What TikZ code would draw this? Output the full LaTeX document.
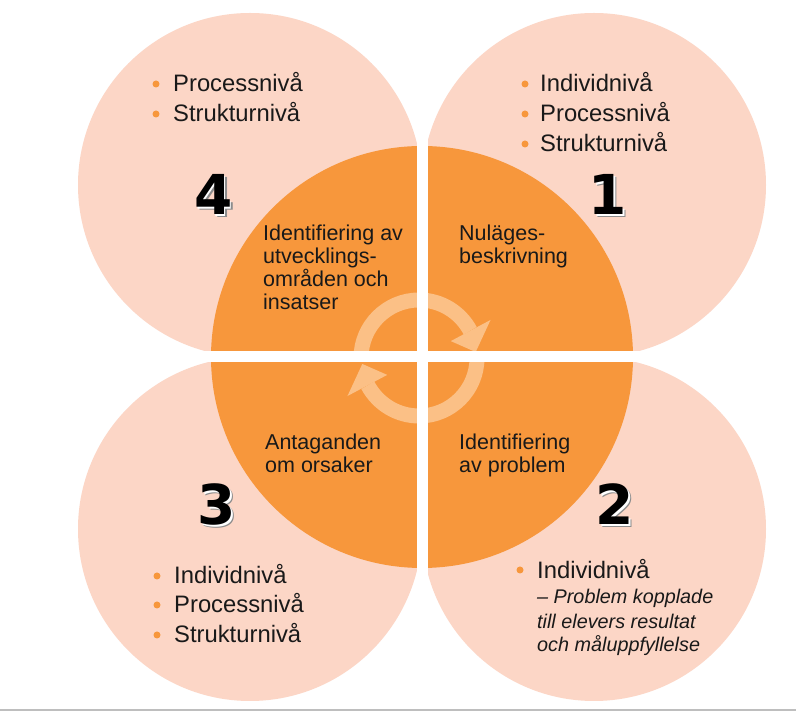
\documentclass[tikz,border=0pt]{standalone}
\usepackage{fontspec}
\setmainfont{Liberation Sans}
\newfontfamily\numfont{DejaVu Sans}
\usetikzlibrary{calc}
\definecolor{pale}{RGB}{252,214,198}
\definecolor{orng}{RGB}{247,151,60}
\definecolor{ringc}{RGB}{251,192,134}
\definecolor{txt}{RGB}{25,25,25}
\definecolor{shadowc}{RGB}{140,140,140}
\definecolor{lineg}{RGB}{190,190,190}
\newcommand{\shadownum}[1]{%
  \rlap{\hspace{3pt}\raisebox{-3pt}{\textcolor{shadowc}{#1}}}%
  \rlap{\hspace{1.5pt}\raisebox{-1.5pt}{\textcolor{white}{#1}}}%
  \textcolor{black}{#1}}
\begin{document}
\begin{tikzpicture}[x=1pt,y=1pt,
  bul/.style={anchor=base west, inner sep=0pt, font=\fontsize{23.8}{28}\selectfont, text=txt},
  ctr/.style={anchor=base west, inner sep=0pt, font=\fontsize{21.5}{23}\selectfont, text=txt},
  ital/.style={anchor=base west, inner sep=0pt, font=\fontsize{19.8}{24}\selectfont\itshape, text=txt},
  num/.style={anchor=base, inner sep=0pt, font=\numfont\bfseries\fontsize{55}{55}\selectfont},
  dot/.style={circle, fill=orng, inner sep=0pt, minimum size=7pt},
]
\useasboundingbox (0,0) rectangle (796,712);
\fill[white] (0,0) rectangle (796,712);
% pale circles
\fill[pale] (250,527) circle[radius=172];
\fill[pale] (594,527) circle[radius=172];
\fill[pale] (250,183) circle[radius=172];
\fill[pale] (594,183) circle[radius=172];
% central orange disc
\fill[orng] (422,355) circle[radius=211];
% cycle ring
\coordinate (rc) at (419,354);
\draw[ringc, line width=15pt] ($(rc)+(180:58)$) arc[start angle=180, end angle=28, radius=58];
\fill[ringc] ($(rc)+(28:36)$) -- ($(rc)+(28:81)$) -- ($(rc)+(6:57)$) -- cycle;
\draw[ringc, line width=15pt] ($(rc)+(0:58)$) arc[start angle=0, end angle=-152, radius=58];
\fill[ringc] ($(rc)+(208:36)$) -- ($(rc)+(208:81)$) -- ($(rc)+(186:57)$) -- cycle;
% white cross
\fill[white] (416.5,0) rectangle (427.5,712);
\fill[white] (0,349.5) rectangle (796,361);
% bottom rule
\draw[lineg, line width=1.5pt] (0,2) -- (796,2);

% top-left bullets
\node[dot] (d41) at (156,628) {};
\node[bul] (t41) at (173,620) {Processnivå};
\node[dot] (d42) at (156,598) {};
\node[bul] (t42) at (173,590) {Strukturnivå};
% top-right bullets
\node[dot] (d11) at (525,628) {};
\node[bul] (t11) at (540,620) {Individnivå};
\node[dot] (d12) at (525,598) {};
\node[bul] (t12) at (540,590) {Processnivå};
\node[dot] (d13) at (525,568) {};
\node[bul] (t13) at (540,560) {Strukturnivå};
% bottom-left bullets
\node[dot] (d31) at (157,136) {};
\node[bul] (t31) at (174,128) {Individnivå};
\node[dot] (d32) at (157,107) {};
\node[bul] (t32) at (174,99) {Processnivå};
\node[dot] (d33) at (157,77) {};
\node[bul] (t33) at (174,69) {Strukturnivå};
% bottom-right bullet
\node[dot] (d21) at (520,142) {};
\node[bul] (t21) at (537,133) {Individnivå};
\node[ital] (i21) at (537,108) {– Problem kopplade};
\node[ital] (i22) at (537,83) {till elevers resultat};
\node[ital] (i23) at (537,60) {och måluppfyllelse};

% centre texts
\node[ctr] (c41) at (263,471) {Identifiering av};
\node[ctr] (c42) at (263,448) {utvecklings-};
\node[ctr] (c43) at (263,425) {områden och};
\node[ctr] (c44) at (263,402) {insatser};
\node[ctr] (c11) at (459,471) {Nuläges-};
\node[ctr] (c12) at (459,448) {beskrivning};
\node[ctr] (c31) at (265,262) {Antaganden};
\node[ctr] (c32) at (265,239) {om orsaker};
\node[ctr] (c21) at (459,262) {Identifiering};
\node[ctr] (c22) at (459,239) {av problem};

% numbers with shadow
\node[num] (n4) at (213.5,497) {\shadownum{4}};
\node[num] (n1) at (608,497) {\shadownum{1}};
\node[num] (n3) at (217,187) {\shadownum{3}};
\node[num] (n2) at (615,187) {\shadownum{2}};
\end{tikzpicture}
\end{document}
